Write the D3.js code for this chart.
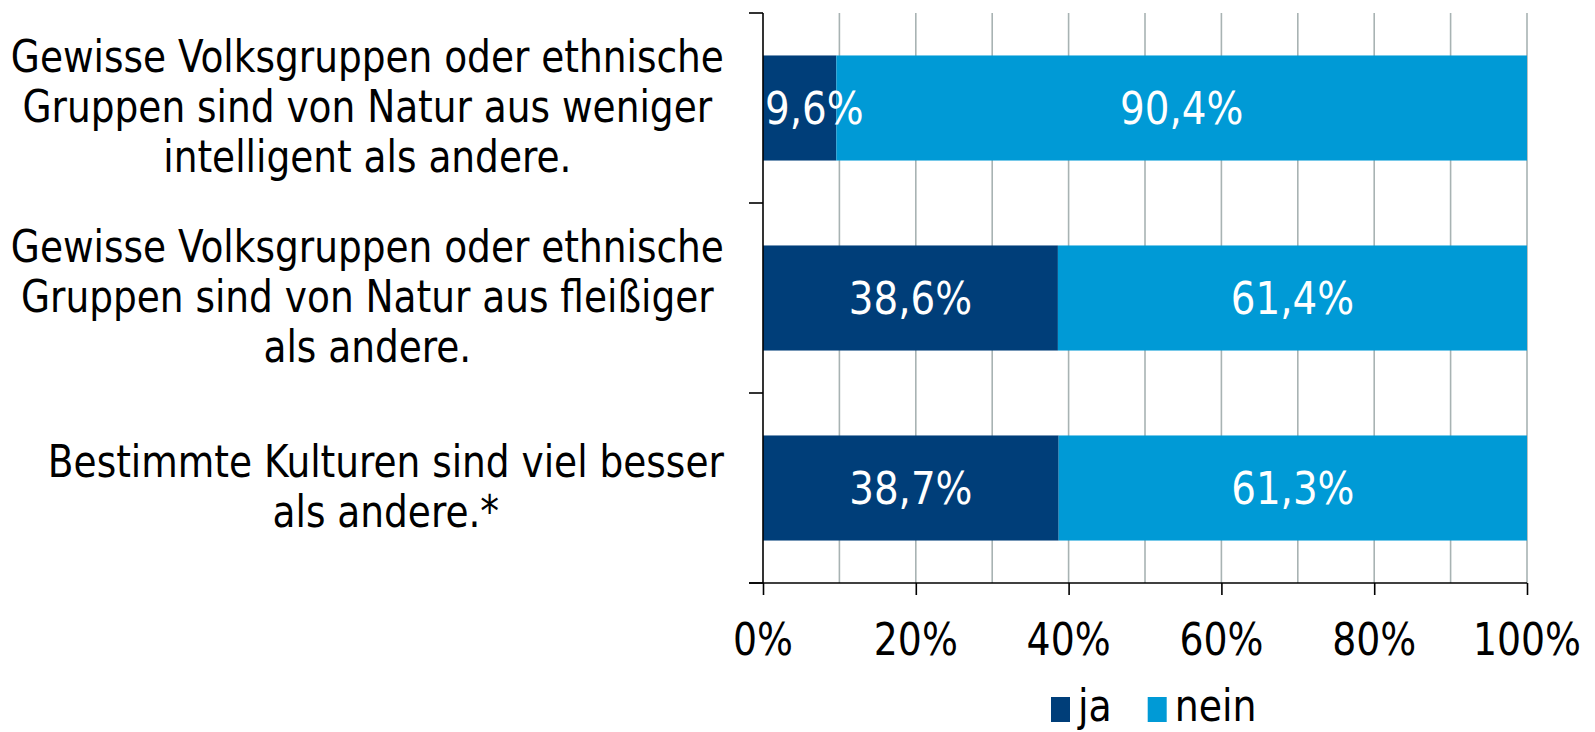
<!DOCTYPE html>
<html><head><meta charset="utf-8">
<script src="https://cdn.jsdelivr.net/npm/d3@7"></script>
<style>
html,body{margin:0;padding:0;background:#fff;}
svg{display:block;font-family:"DejaVu Sans Condensed","DejaVu Sans",sans-serif;}
</style></head>
<body>
<svg id="chart" width="1595" height="732"></svg>
<script>
// ---- data ----
const categories = [
  ["Gewisse Volksgruppen oder ethnische", "Gruppen sind von Natur aus weniger", "intelligent als andere."],
  ["Gewisse Volksgruppen oder ethnische", "Gruppen sind von Natur aus fleißiger", "als andere."],
  ["Bestimmte Kulturen sind viel besser", "als andere.*"]
];
const seriesNames = ["ja", "nein"];
const jaValues = [9.6, 38.6, 38.7];
const neinValues = [90.4, 61.4, 61.3];
const xTicks = [0, 20, 40, 60, 80, 100];
const colors = ["#003e79", "#009ad6"];

(function () {
// ---- layout ----
const pLeft = 763, pRight = 1527, pTop = 13, pBottom = 583;
const FS = 44;
const svg = d3.select("#chart");

const x = d3.scaleLinear().domain([0, 100]).range([pLeft, pRight]);
const y = d3.scaleBand().domain(d3.range(categories.length)).range([pTop, pBottom])
  .paddingInner(0.447).paddingOuter(0.2235);
const step = y.step();

// helper: horizontally condensed text
function ctext(g, str, tx, ty, anchor, fill, K) {
  const grp = g.append("g").attr("transform", `translate(${tx},${ty}) scale(${K},1)`);
  return grp.append("text").attr("x", 0).attr("y", 0)
    .attr("text-anchor", anchor).attr("font-size", FS).attr("fill", fill || "#000").text(str);
}

// gridlines
svg.append("g").selectAll("line").data(d3.range(10, 101, 10)).join("line")
  .attr("x1", d => x(d)).attr("x2", d => x(d))
  .attr("y1", pTop).attr("y2", pBottom)
  .attr("stroke", "#a8b3b3").attr("stroke-width", 1.6);

// bars
const stacked = categories.map((c, i) => [
  {s: 0, x0: 0, x1: jaValues[i], v: jaValues[i], i},
  {s: 1, x0: jaValues[i], x1: jaValues[i] + neinValues[i], v: neinValues[i], i}
]).flat();

svg.append("g").selectAll("rect").data(stacked).join("rect")
  .attr("x", d => x(d.x0)).attr("width", d => x(d.x1) - x(d.x0))
  .attr("y", d => y(d.i)).attr("height", y.bandwidth())
  .attr("fill", d => colors[d.s]);

// bar labels
const KB = 0.98;
const lbl = svg.append("g");
stacked.forEach(d => {
  const str = d.v.toFixed(1).replace(".", ",") + "%";
  const cx = (x(d.x0) + x(d.x1)) / 2;
  const yc = y(d.i) + y.bandwidth() / 2 + 15.5;
  const t = ctext(lbl, str, cx, yc, "middle", "#fff", KB);
  const w = t.node().getComputedTextLength() * KB;
  const minX = x(d.x0) + w / 2 + 2;
  if (cx < minX) t.node().parentNode.setAttribute("transform", `translate(${minX},${yc}) scale(${KB},1)`);
});

// category axis (vertical) with ticks at band boundaries
const ax = svg.append("g").attr("stroke", "#000").attr("stroke-width", 1.6);
ax.append("line").attr("x1", pLeft).attr("x2", pLeft).attr("y1", pTop).attr("y2", pBottom);
ax.selectAll(".ct").data(d3.range(categories.length + 1)).join("line")
  .attr("x1", pLeft - 14).attr("x2", pLeft)
  .attr("y1", d => pTop + d * step).attr("y2", d => pTop + d * step);

// value axis
const xAxis = d3.axisBottom(x).tickValues(xTicks).tickSize(12).tickFormat("");
const xg = svg.append("g").attr("transform", `translate(0,${pBottom})`).call(xAxis);
xg.select(".domain").remove();
xg.selectAll(".tick line").attr("stroke", "#000").attr("stroke-width", 1.6);
svg.append("line").attr("x1", pLeft - 14).attr("x2", pRight).attr("y1", pBottom).attr("y2", pBottom)
  .attr("stroke", "#000").attr("stroke-width", 1.6);
const tl = svg.append("g");
xTicks.forEach(v => ctext(tl, v + "%", x(v), 655, "middle", "#000", 0.955));

// category labels: block right-aligned at 724, lines centered within block
const KL = 0.947;
const cl = svg.append("g");
categories.forEach((lines, i) => {
  const yc = y(i) + y.bandwidth() / 2;
  const widths = lines.map(s => {
    const t = svg.append("text").attr("font-size", FS).text(s);
    const w = t.node().getComputedTextLength() * KL; t.remove(); return w;
  });
  const bw = d3.max(widths);
  const cx = 724 - bw / 2;
  lines.forEach((s, j) => {
    const by = yc + (j - (lines.length - 1) / 2) * 50 + 13.5;
    ctext(cl, s, cx, by, "middle", "#000", KL);
  });
});

// legend
const KG = 0.956;
const lg = svg.append("g");
let lx = 1051;
seriesNames.forEach((n, i) => {
  lg.append("rect").attr("x", lx).attr("y", 697).attr("width", 19).attr("height", 25).attr("fill", colors[i]);
  const t = ctext(lg, n, lx + 27, 721, "start", "#000", KG);
  const w = t.node().getComputedTextLength() * KG;
  lx += 27 + w + 36;
});
})();
</script>
</body></html>
